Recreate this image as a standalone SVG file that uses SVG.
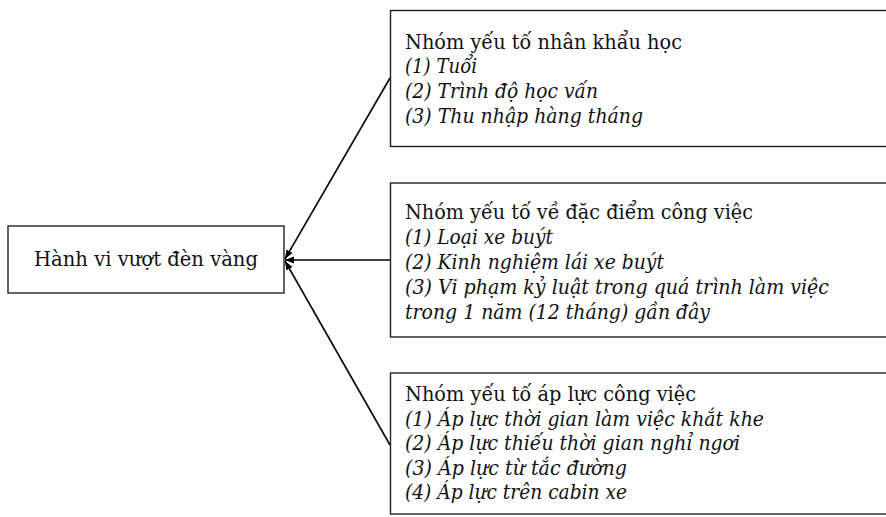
<svg xmlns="http://www.w3.org/2000/svg" width="886" height="517" viewBox="0 0 886 517">
<style>
.box{fill:#fff;stroke:#222;stroke-width:1.4}
.t{font-family:"DejaVu Serif","Liberation Serif",serif;font-size:19.5px;fill:#111}
.i{font-style:italic}
.c{stroke:#000;stroke-width:1.6;fill:none}
</style>
<defs>
<marker id="ah" markerUnits="userSpaceOnUse" markerWidth="10" markerHeight="10" refX="9" refY="5" orient="auto">
<path d="M0,1.5 L9,5 L0,8.5 z" fill="#000"/>
</marker>
</defs>
<rect width="886" height="517" fill="#fff"/>
<g id="connectors">
<line class="c" x1="390" y1="78" x2="285" y2="259" marker-end="url(#ah)"/>
<line class="c" x1="390" y1="260" x2="285" y2="260" marker-end="url(#ah)"/>
<line class="c" x1="390" y1="445" x2="285" y2="261" marker-end="url(#ah)"/>
</g>
<g id="main">
<rect class="box" x="8" y="226" width="276" height="67"/>
<text class="t" x="34" y="266" textLength="224" lengthAdjust="spacingAndGlyphs">Hành vi vượt đèn vàng</text>
</g>
<g id="group1">
<rect class="box" x="390.5" y="10.5" width="500" height="136"/>
<text class="t" x="405" y="48.5" textLength="277" lengthAdjust="spacingAndGlyphs">Nhóm yếu tố nhân khẩu học</text>
<text class="t i" x="405" y="73.3" textLength="72" lengthAdjust="spacingAndGlyphs">(1) Tuổi</text>
<text class="t i" x="405" y="98.1" textLength="193" lengthAdjust="spacingAndGlyphs">(2) Trình độ học vấn</text>
<text class="t i" x="405" y="122.9" textLength="238" lengthAdjust="spacingAndGlyphs">(3) Thu nhập hàng tháng</text>
</g>
<g id="group2">
<rect class="box" x="390.5" y="183" width="500" height="154"/>
<text class="t" x="405" y="218.5" textLength="348" lengthAdjust="spacingAndGlyphs">Nhóm yếu tố về đặc điểm công việc</text>
<text class="t i" x="405" y="243.5" textLength="148" lengthAdjust="spacingAndGlyphs">(1) Loại xe buýt</text>
<text class="t i" x="405" y="268.5" textLength="259" lengthAdjust="spacingAndGlyphs">(2) Kinh nghiệm lái xe buýt</text>
<text class="t i" x="405" y="293.5" textLength="424" lengthAdjust="spacingAndGlyphs">(3) Vi phạm kỷ luật trong quá trình làm việc</text>
<text class="t i" x="405" y="318.5" textLength="305" lengthAdjust="spacingAndGlyphs">trong 1 năm (12 tháng) gần đây</text>
</g>
<g id="group3">
<rect class="box" x="390.5" y="373" width="500" height="141"/>
<text class="t" x="405" y="401" textLength="291" lengthAdjust="spacingAndGlyphs">Nhóm yếu tố áp lực công việc</text>
<text class="t i" x="405" y="425.5" textLength="359" lengthAdjust="spacingAndGlyphs">(1) Áp lực thời gian làm việc khắt khe</text>
<text class="t i" x="405" y="450" textLength="335" lengthAdjust="spacingAndGlyphs">(2) Áp lực thiếu thời gian nghỉ ngơi</text>
<text class="t i" x="405" y="474.5" textLength="222" lengthAdjust="spacingAndGlyphs">(3) Áp lực từ tắc đường</text>
<text class="t i" x="405" y="499" textLength="222" lengthAdjust="spacingAndGlyphs">(4) Áp lực trên cabin xe</text>
</g>
</svg>
